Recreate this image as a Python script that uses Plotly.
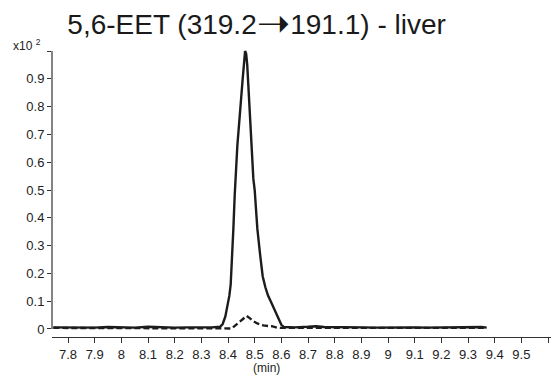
import plotly.graph_objects as go

# ---- data ----
t_solid = [7.745, 7.80, 7.85, 7.90, 7.95, 8.00, 8.05, 8.10, 8.15, 8.20, 8.25, 8.30,
           8.34, 8.37, 8.38, 8.39, 8.40, 8.405, 8.41, 8.415, 8.42, 8.425, 8.43, 8.435,
           8.44, 8.445, 8.45, 8.455, 8.46, 8.464, 8.468, 8.472, 8.476, 8.48, 8.485,
           8.49, 8.495, 8.50, 8.505, 8.51, 8.52, 8.53, 8.54, 8.55, 8.56, 8.57, 8.58,
           8.59, 8.60, 8.61, 8.65, 8.70, 8.73, 8.76, 8.80, 8.85, 8.90, 8.95, 9.00,
           9.05, 9.10, 9.15, 9.20, 9.25, 9.30, 9.35, 9.37]
v_solid = [0.006, 0.005, 0.006, 0.005, 0.007, 0.006, 0.005, 0.008, 0.006, 0.005, 0.006, 0.005,
           0.006, 0.008, 0.018, 0.045, 0.09, 0.12, 0.16, 0.24, 0.36, 0.48, 0.60, 0.66,
           0.72, 0.77, 0.84, 0.90, 0.96, 1.0, 0.99, 0.95, 0.88, 0.80, 0.70,
           0.62, 0.54, 0.50, 0.43, 0.36, 0.27, 0.19, 0.15, 0.12, 0.10, 0.08, 0.06,
           0.035, 0.015, 0.007, 0.006, 0.008, 0.010, 0.007, 0.006, 0.005, 0.006, 0.005, 0.006,
           0.005, 0.006, 0.005, 0.006, 0.005, 0.006, 0.007, 0.005]

t_dash = [7.745, 7.80, 7.90, 8.00, 8.10, 8.20, 8.30, 8.40, 8.414, 8.43, 8.45, 8.47,
          8.48, 8.495, 8.51, 8.532, 8.55, 8.564, 8.58, 8.595, 8.65, 8.70, 8.80, 8.90,
          9.00, 9.10, 9.20, 9.30, 9.37]
v_dash = [0.004, 0.004, 0.003, 0.004, 0.004, 0.003, 0.004, 0.003, 0.002, 0.015, 0.030, 0.047,
          0.040, 0.028, 0.020, 0.013, 0.011, 0.010, 0.006, 0.004, 0.004, 0.004, 0.003, 0.004,
          0.004, 0.003, 0.004, 0.004, 0.004]

x_ticks = [7.8, 7.9, 8.0, 8.1, 8.2, 8.3, 8.4, 8.5, 8.6, 8.7, 8.8, 8.9, 9.0,
           9.1, 9.2, 9.3, 9.4, 9.5, 9.6]
x_labels = ["7.8", "7.9", "8", "8.1", "8.2", "8.3", "8.4", "8.5", "8.6", "8.7", "8.8",
            "8.9", "9", "9.1", "9.2", "9.3", "9.4", "9.5", ""]
y_ticks = [0, 0.1, 0.2, 0.3, 0.4, 0.5, 0.6, 0.7, 0.8, 0.9, 1.0]
y_labels = ["0", "0.1", "0.2", "0.3", "0.4", "0.5", "0.6", "0.7", "0.8", "0.9", ""]

title_text = ("5,6-EET (319.2<span style='font-family:DejaVu Sans;font-size:40px;"
              "baseline-shift:-3px'>➝</span>191.1) - liver")
scale_text = "x10 <sup>2</sup>"
x_title = "(min)"

INK = "#1c1c1c"
FONT = "Liberation Sans, Arial, sans-serif"

fig = go.Figure()
fig.add_trace(go.Scatter(x=t_solid, y=v_solid, mode="lines",
                         line=dict(color=INK, width=2.4), showlegend=False,
                         hoverinfo="skip"))
fig.add_trace(go.Scatter(x=t_dash, y=v_dash, mode="lines",
                         line=dict(color=INK, width=2.4, dash="6px,3px"),
                         showlegend=False, hoverinfo="skip"))

fig.update_layout(
    width=552, height=384,
    margin=dict(l=52, r=1, t=48, b=47),
    paper_bgcolor="white", plot_bgcolor="white",
    font=dict(family=FONT, color="#222222", size=13),
    title=dict(text=title_text, font=dict(size=28, color="#1a1a1a", family=FONT),
               x=0.41, xref="paper", xanchor="center",
               y=1 - 24 / 384, yref="container", yanchor="middle"),
    xaxis=dict(range=[7.740, 9.611], tickvals=x_ticks, ticktext=x_labels,
               ticks="outside", ticklen=5, tickwidth=1, tickcolor="#333",
               showline=True, linecolor="#333", linewidth=1,
               showgrid=False, zeroline=False, tickfont=dict(size=13)),
    yaxis=dict(range=[-0.0288, 1.0108], tickvals=y_ticks, ticktext=y_labels,
               ticks="outside", ticklen=4, tickwidth=1, tickcolor="#333",
               showline=False, showgrid=False, zeroline=False,
               tickfont=dict(size=13)),
    shapes=[dict(type="line", xref="paper", yref="y", x0=0, x1=0, y0=0, y1=1.0,
                 line=dict(color="#333", width=1.2))],
    annotations=[
        dict(text=scale_text, xref="paper", yref="paper", x=(11 - 52) / 499,
             y=1 + 3 / 289, xanchor="left", yanchor="middle", showarrow=False,
             font=dict(size=12, color="#222")),
        dict(text=x_title, xref="paper", yref="paper", x=(266 - 52) / 499,
             y=-(368 - 337) / 289, xanchor="center", yanchor="middle",
             showarrow=False, font=dict(size=12, color="#222")),
    ],
)

fig.write_html("out.html")
